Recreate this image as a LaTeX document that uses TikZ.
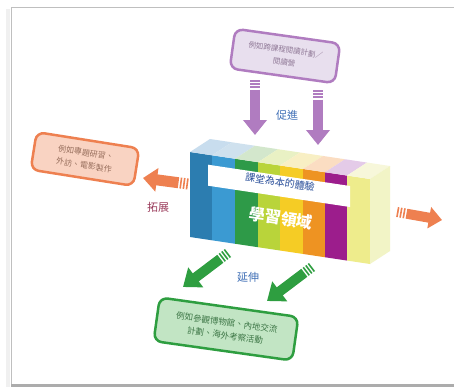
\documentclass[tikz,border=0pt]{standalone}
\usepackage{fontspec}
\setmainfont{Noto Sans CJK TC}
\usetikzlibrary{arrows.meta,calc}
\definecolor{purpline}{HTML}{B07CC0}
\definecolor{purpfill}{HTML}{E8DFEE}
\definecolor{orgline}{HTML}{EE8050}
\definecolor{orgfill}{HTML}{F9D3C2}
\definecolor{grnline}{HTML}{2E9E40}
\definecolor{grnfill}{HTML}{C2E5C4}
\definecolor{cA}{HTML}{2C7DB0}
\definecolor{cB}{HTML}{3B9AD2}
\definecolor{cC}{HTML}{2E9A48}
\definecolor{cD}{HTML}{B9D43A}
\definecolor{cE}{HTML}{F5CC25}
\definecolor{cF}{HTML}{EE9322}
\definecolor{cG}{HTML}{9C1D8C}
\definecolor{cH}{HTML}{EEEC8C}
\definecolor{tA}{HTML}{C8DDEE}
\definecolor{tB}{HTML}{CFE1EE}
\definecolor{tC}{HTML}{D3E7CC}
\definecolor{tD}{HTML}{E9F1C4}
\definecolor{tE}{HTML}{F8EFC4}
\definecolor{tF}{HTML}{FBDDC2}
\definecolor{tG}{HTML}{E4CBE8}
\definecolor{tH}{HTML}{F7F7DA}
\definecolor{sideC}{HTML}{F2F4C6}
\definecolor{labblue}{HTML}{3F6FB6}
\definecolor{bartext}{HTML}{2A4F9A}
\definecolor{extcol}{HTML}{9A3A5A}
\newcommand{\blockarrow}[6]{%
  \draw[#1, line width=#4, dash pattern=on 1.6pt off 1.6pt] (#2) -- ($(#2)!8pt!(#3)$);
  \draw[#1, line width=#4, -{Triangle[width=#5,length=#6]}] ($(#2)!9.6pt!(#3)$) -- (#3);}
\def\slp{0.15}
\begin{document}
\begin{tikzpicture}[x=1pt,y=-1pt,
  callout/.style={rounded corners=8pt, line width=2.5pt, align=center, inner sep=3pt},
  boxtxt/.style={font=\fontsize{7.5}{12}\selectfont},
  lbl/.style={font=\fontsize{11}{13}\selectfont}]
\useasboundingbox (0,0) rectangle (454,389);
\fill[white] (0,0) rectangle (454,389);
% frame
\draw[gray!12, line width=4pt] (8,9) -- (8,387);
\draw[gray!50, line width=1pt] (460,7) -- (11,7) -- (11,385);
\draw[gray!65, line width=2.5pt] (11,385.5) -- (460,385.5);
% block
\foreach \xa/\xb/\cf/\ct in {190/212/cA/tA, 212/235/cB/tB, 235/258/cC/tC, 258/280/cD/tD, 280/303/cE/tE, 303/325/cF/tF, 325/347/cG/tG, 347/370/cH/tH} {
  \fill[\cf] (\xa, {152+\slp*(\xa-190)}) -- (\xb, {152+\slp*(\xb-190)}) -- (\xb, {237+\slp*(\xb-190)}) -- (\xa, {237+\slp*(\xa-190)}) -- cycle;
  \fill[\ct] (\xa, {152+\slp*(\xa-190)}) -- (\xb, {152+\slp*(\xb-190)}) -- ({\xb+20}, {139+\slp*(\xb-190)}) -- ({\xa+20}, {139+\slp*(\xa-190)}) -- cycle;
}
\fill[sideC] (370, {152+\slp*180}) -- (390, {139+\slp*180}) -- (390, {224+\slp*180}) -- (370, {237+\slp*180}) -- cycle;
\coordinate (block) at (280,205);
% white label band
\fill[white] (208, {162+\slp*18}) -- (350, {162+\slp*160}) -- (350, {183+\slp*160}) -- (208, {183+\slp*18}) -- cycle;
\node[text=bartext, rotate=-8.5, font=\fontsize{10}{12}\selectfont] (band) at (280,182) {課堂為本的體驗};
\node[text=white, rotate=-8.5, font=\fontsize{16}{18}\bfseries\selectfont] (area) at (281,218) {學習領域};
% callout boxes
\node[callout, draw=purpline, fill=purpfill, rotate=-8, minimum width=106pt, minimum height=40pt, boxtxt, text=purpline!60!black!75] (prom) at (285,56) {例如跨課程閱讀計劃／\\閱讀營};
\node[callout, draw=orgline, fill=orgfill, rotate=-9, minimum width=104pt, minimum height=38pt, font=\fontsize{8}{12.5}\selectfont, text=orgline!50!black!75] (broad) at (85,159) {例如專題研習、\\外訪、電影製作};
\node[callout, draw=grnline, fill=grnfill, rotate=-8, minimum width=140pt, minimum height=44pt, font=\fontsize{8.5}{13}\selectfont, text=grnline!60!black!85] (ext) at (226,329) {例如參觀博物館、內地交流\\計劃、海外考察活動};
% labels
\node[lbl, text=labblue] (lprom) at (287,115) {促進};
\node[lbl, text=extcol] (lbroad) at (158,207) {拓展};
\node[lbl, text=labblue] (lext) at (248,277) {延伸};
% arrows
\coordinate (p1t) at (255,80);  \coordinate (p1h) at (255,135);
\coordinate (p2t) at (318,90);  \coordinate (p2h) at (318,145);
\coordinate (o1t) at (188,184); \coordinate (o1h) at (143,178);
\coordinate (o2t) at (397,212); \coordinate (o2h) at (442,220);
\coordinate (g1t) at (228,253); \coordinate (g1h) at (183,287);
\coordinate (g2t) at (312,267); \coordinate (g2h) at (267,301);
\blockarrow{purpline}{p1t}{p1h}{10pt}{23pt}{15pt}
\blockarrow{purpline}{p2t}{p2h}{10pt}{23pt}{15pt}
\blockarrow{orgline}{o1t}{o1h}{11pt}{23pt}{14pt}
\blockarrow{orgline}{o2t}{o2h}{10pt}{21pt}{13pt}
\blockarrow{grnline}{g1t}{g1h}{10pt}{24pt}{16pt}
\blockarrow{grnline}{g2t}{g2h}{10pt}{24pt}{16pt}
\end{tikzpicture}
\end{document}
